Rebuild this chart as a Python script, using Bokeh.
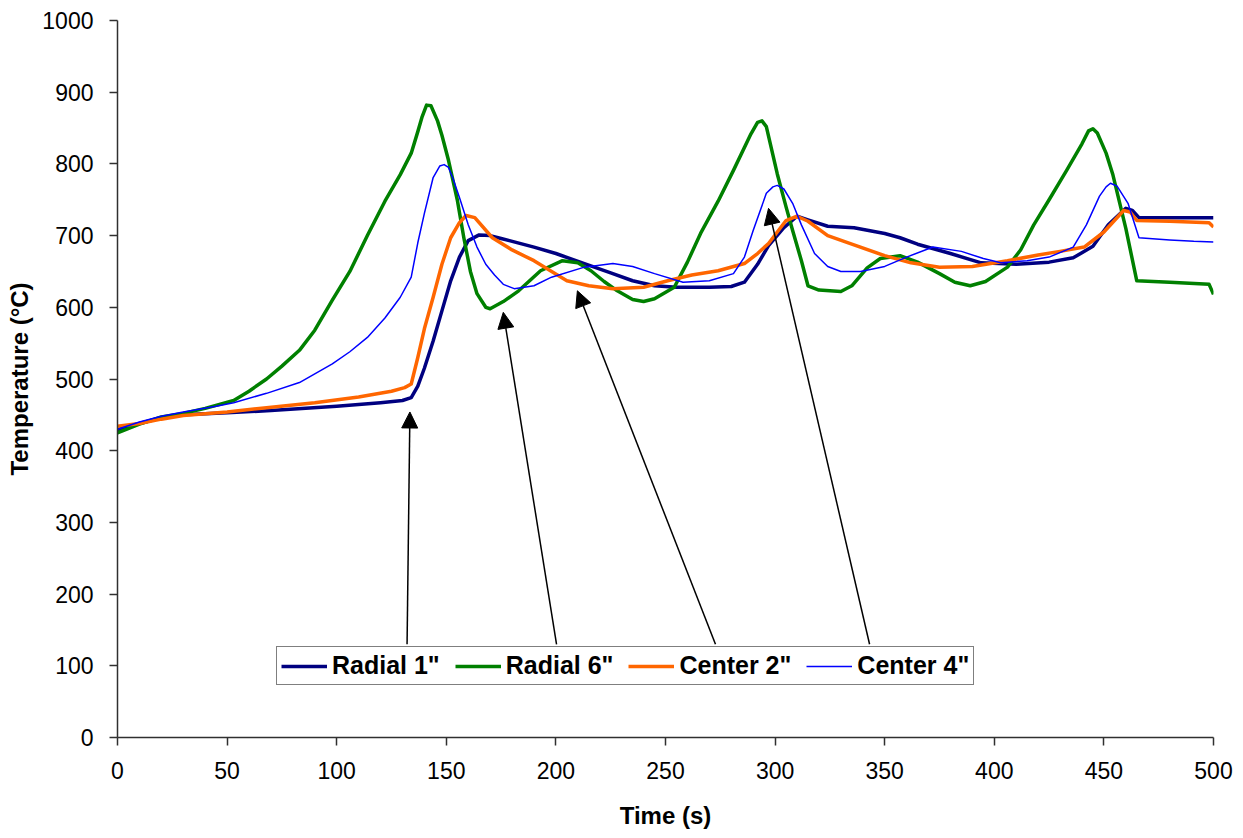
from bokeh.plotting import figure
from bokeh.models import Legend, LegendItem, Arrow, NormalHead, FixedTicker, Range1d
from bokeh.embed import file_html
from bokeh.resources import INLINE

# ---------------- data ----------------
radial1_t = [0, 10, 20, 30, 50, 70, 100, 120, 130, 134, 137, 140, 144, 148, 152, 156, 160, 165, 170,
             175, 190, 200, 213, 225, 235, 245, 255, 270, 280, 286, 292, 297, 304, 310, 315, 324, 336,
             350, 357, 365, 380, 394, 410, 425, 436, 445, 452, 460, 463, 466, 480, 500]
radial1_T = [429, 438, 446, 450, 453, 456, 462, 467, 470, 474, 490, 515, 553, 595, 637, 670, 693, 701, 700,
             696, 684, 675, 661, 648, 637, 630, 628, 628, 629, 635, 660, 686, 711, 727, 722, 713, 711,
             703, 697, 688, 675, 662, 660, 663, 669, 685, 715, 738, 735, 725, 725, 725]

radial6_t = [0, 10, 20, 30, 40, 53, 60, 68, 75, 83, 90, 98, 106, 114, 122, 129, 134, 137, 139, 141, 143,
             146, 148, 151, 155, 158, 161, 164, 168, 170, 176, 183, 193, 203, 210, 216, 222, 228, 235, 240,
             245, 254, 260, 266, 274, 281, 289, 292, 294, 296, 301, 305, 308, 312, 315, 320, 330, 335, 342,
             348, 357, 365, 375, 382, 389, 396, 406, 412, 418, 425, 433, 440, 443, 445, 447, 451, 454, 460,
             465, 480, 498, 500]
radial6_T = [425, 437, 447, 452, 459, 470, 483, 500, 518, 540, 568, 610, 650, 700, 748, 785, 815, 845, 866,
             882, 881, 860, 840, 805, 750, 697, 650, 619, 600, 598, 608, 623, 651, 665, 662, 651, 636, 623,
             611, 608, 612, 628, 663, 703, 748, 791, 842, 858, 860, 852, 786, 740, 707, 665, 630, 624, 622,
             630, 655, 668, 672, 663, 647, 635, 630, 636, 656, 680, 715, 750, 791, 828, 846, 849, 843, 815,
             786, 710, 637, 635, 632, 618]

center2_t = [0, 10, 20, 30, 50, 68, 90, 110, 125, 131, 134, 137, 140, 144, 148, 152, 156, 159, 163, 171,
             180, 190, 205, 215, 226, 240, 251, 262, 274, 286, 292, 297, 305, 310, 315, 324, 335, 350,
             362, 375, 390, 406, 420, 430, 441, 450, 459, 462, 465, 480, 498, 500]
center2_T = [434, 438, 444, 449, 454, 460, 467, 475, 483, 488, 493, 530, 570, 614, 660, 697, 718, 728, 725,
             697, 680, 665, 637, 630, 626, 628, 637, 645, 651, 661, 675, 689, 721, 727, 720, 700, 688,
             672, 662, 656, 657, 665, 673, 678, 684, 705, 735, 733, 721, 720, 718, 712]

center4_t = [0, 10, 20, 30, 45, 53, 68, 83, 98, 106, 114, 122, 129, 134, 137, 140, 144, 147, 149, 151, 153,
             156, 160, 164, 168, 172, 176, 181, 190, 198, 213, 226, 235, 245, 258, 270, 281, 286, 290, 296,
             299, 301, 304, 308, 312, 318, 324, 330, 339, 350, 360, 372, 385, 395, 403, 415, 425, 436, 442,
             448, 451, 453, 456, 461, 466, 480, 491, 500]
center4_T = [430, 440, 448, 454, 462, 467, 480, 495, 521, 538, 558, 585, 614, 642, 690, 731, 781, 797, 799,
             795, 780, 753, 715, 684, 660, 645, 632, 626, 630, 642, 656, 661, 657, 647, 635, 637, 647, 670,
             707, 759, 768, 770, 765, 745, 715, 675, 657, 650, 650, 657, 670, 684, 678, 668, 662, 665, 670,
             684, 715, 755, 768, 773, 769, 745, 697, 694, 692, 691]

series_names = ['Radial 1"', 'Radial 6"', 'Center 2"', 'Center 4"']

# annotation arrows (tail on the legend, tip on the curve)
arrow_tail_t = [132.1, 200.3, 272.8, 343.1]
arrow_tail_T = [130, 130, 130, 130]
arrow_tip_t = [133.4, 176.0, 209.8, 297.0]
arrow_tip_T = [454, 593, 623, 738]

x_ticks = list(range(0, 501, 50))
y_ticks = list(range(0, 1001, 100))

# ---------------- figure ----------------
FONT = "Liberation Sans"

p = figure(width=1243, height=838, output_backend="svg", toolbar_location=None,
           x_range=Range1d(0, 500), y_range=Range1d(0, 1000),
           min_border_left=117, min_border_right=30, min_border_top=20, min_border_bottom=101)
p.background_fill_color = "white"
p.border_fill_color = "white"
p.outline_line_color = None
p.xgrid.visible = False
p.ygrid.visible = False

for ax in (p.xaxis[0], p.yaxis[0]):
    ax.major_label_text_font = FONT
    ax.major_label_text_font_size = "23px"
    ax.major_label_text_color = "black"
    ax.axis_label_text_font = FONT
    ax.axis_label_text_font_size = "24px"
    ax.axis_label_text_font_style = "bold"
    ax.axis_label_text_color = "black"
    ax.axis_line_color = "#303030"
    ax.axis_line_width = 1.5
    ax.major_tick_line_color = "#303030"
    ax.major_tick_line_width = 1.5
    ax.major_tick_out = 8
    ax.major_tick_in = 0
    ax.minor_tick_line_color = None
    ax.major_label_standoff = 16

p.xaxis[0].ticker = FixedTicker(ticks=x_ticks)
p.yaxis[0].ticker = FixedTicker(ticks=y_ticks)
p.xaxis[0].axis_label = "Time (s)"
p.yaxis[0].axis_label = "Temperature (°C)"
p.xaxis[0].axis_label_standoff = 20
p.yaxis[0].axis_label_standoff = 6

colors = ["#000080", "#008000", "#FF6600", "#0000FF"]
widths = [3.5, 3.5, 3.5, 1.5]
data = [(radial1_t, radial1_T), (radial6_t, radial6_T), (center2_t, center2_T), (center4_t, center4_T)]

renderers = []
for (t, T), c, w in zip(data, colors, widths):
    r = p.line(t, T, line_color=c, line_width=w, line_join="round")
    renderers.append(r)

for xs, ys, xe, ye in zip(arrow_tail_t, arrow_tail_T, arrow_tip_t, arrow_tip_T):
    p.add_layout(Arrow(x_start=xs, y_start=ys, x_end=xe, y_end=ye,
                       line_color="black", line_width=1.5,
                       end=NormalHead(size=16, fill_color="black", line_color="black", line_width=1)))

legend = Legend(items=[LegendItem(label=n, renderers=[r]) for n, r in zip(series_names, renderers)],
                orientation="horizontal", location=(159, 52),
                label_text_font=FONT, label_text_font_size="25px", label_text_font_style="bold",
                label_text_color="black",
                glyph_width=46, glyph_height=20, label_standoff=5, spacing=15, padding=4,
                margin=0, border_line_color="black", border_line_width=1.5,
                background_fill_color="white", background_fill_alpha=1.0)
p.add_layout(legend, "center")

open("out.html", "w").write(file_html(p, INLINE))
